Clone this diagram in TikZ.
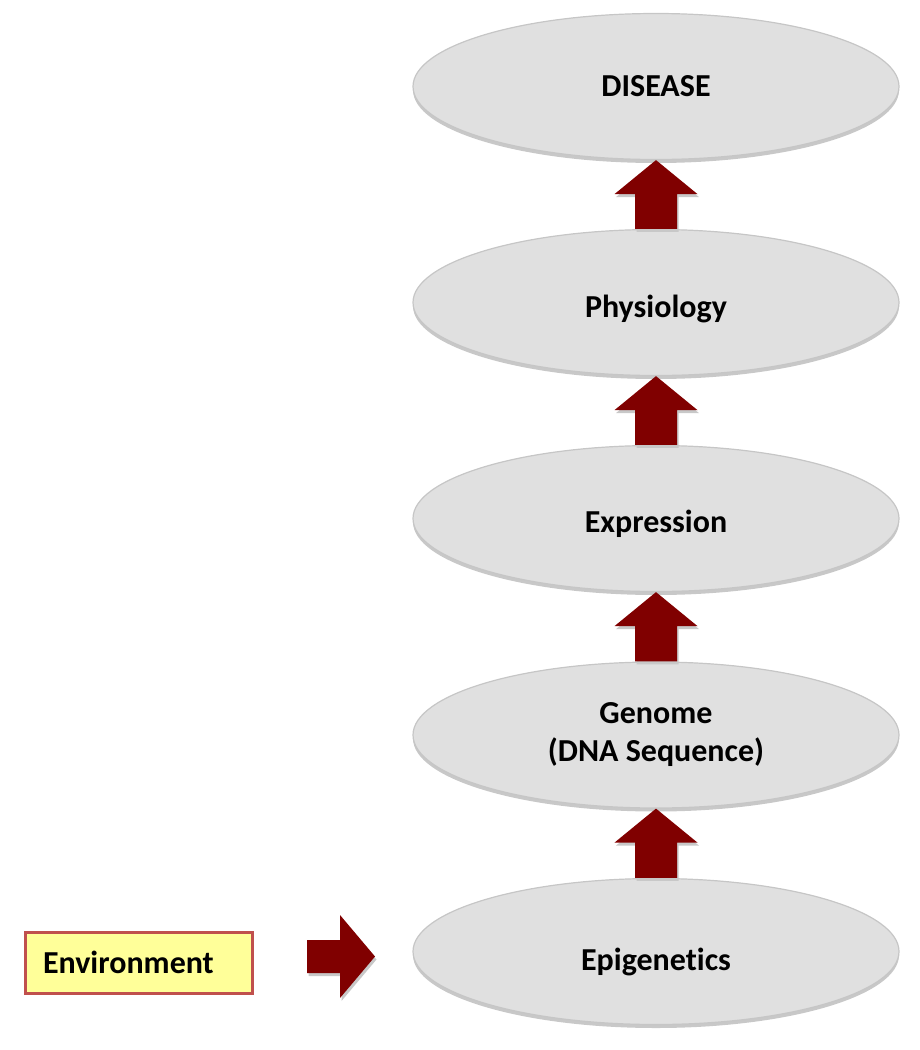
\documentclass[tikz,border=0pt]{standalone}
\usepackage{fontspec}
\setmainfont{Carlito}[Ligatures=NoCommon]
\usetikzlibrary{shapes.geometric,calc,shadows}
\definecolor{ellfill}{HTML}{E0E0E0}
\definecolor{elldraw}{HTML}{C6C6C6}
\definecolor{shad}{HTML}{C8C8C8}
\definecolor{arr}{HTML}{800000}
\definecolor{envfill}{HTML}{FFFF99}
\definecolor{envdraw}{HTML}{C0504D}
\tikzset{
  txt/.style={font=\bfseries\fontsize{32}{38}\selectfont},
  stage/.style={txt, ellipse, minimum width=486pt, minimum height=146pt, inner sep=0pt,
    fill=ellfill, draw=elldraw, line width=1.2pt, align=center,
    drop shadow={shadow xshift=0pt, shadow yshift=-3.5pt, fill=shad, opacity=1}},
  fatarrow/.style={fill=arr,
    drop shadow={shadow xshift=1.5pt, shadow yshift=-3pt, fill=shad, opacity=1}},
  envbox/.style={txt, draw=envdraw, line width=3pt, fill=envfill,
    minimum width=227pt, minimum height=61pt, inner xsep=0pt,
    text width=191pt, align=left},
}
\newcommand\uparrowbetween[2]{%
  \fill[fatarrow] let \p1=(#2.south), \p2=(#1.north) in
    (\x1,\y1) -- (\x1+41.5pt,\y1-34pt) -- (\x1+21pt,\y1-34pt) -- (\x1+21pt,\y2)
    -- (\x1-21pt,\y2) -- (\x1-21pt,\y1-34pt) -- (\x1-41.5pt,\y1-34pt) -- cycle;}
\begin{document}
\begin{tikzpicture}[x=1pt,y=-1pt]
\useasboundingbox (0,0) rectangle (920,1050);
\node[stage] (dis) at (656,86.5) {DISEASE};
\node[stage, text height=29pt, text depth=0pt] (phy) at (656,302.5) {Physiology};
\node[stage, text height=27pt, text depth=0pt] (exp) at (656,518.5) {Expression};
\node[stage] (gen) at (656,735) {Genome\\(DNA Sequence)};
\node[stage, text height=37pt, text depth=0pt] (epi) at (656,951.5) {Epigenetics};
\node[envbox] (env) at (138.5,962.5) {Environment};
\uparrowbetween{phy}{dis}
\uparrowbetween{exp}{phy}
\uparrowbetween{gen}{exp}
\uparrowbetween{epi}{gen}
\coordinate (ra) at (307,956.5);
\coordinate (rb) at (375,956.5);
\fill[fatarrow] let \p1=(ra), \p2=(rb) in
  (\x2,\y2) -- (\x2-35pt,\y2+41.5pt) -- (\x2-35pt,\y2+16.5pt) -- (\x1,\y1+16.5pt)
  -- (\x1,\y1-16.5pt) -- (\x2-35pt,\y2-16.5pt) -- (\x2-35pt,\y2-41.5pt) -- cycle;
\end{tikzpicture}
\end{document}
